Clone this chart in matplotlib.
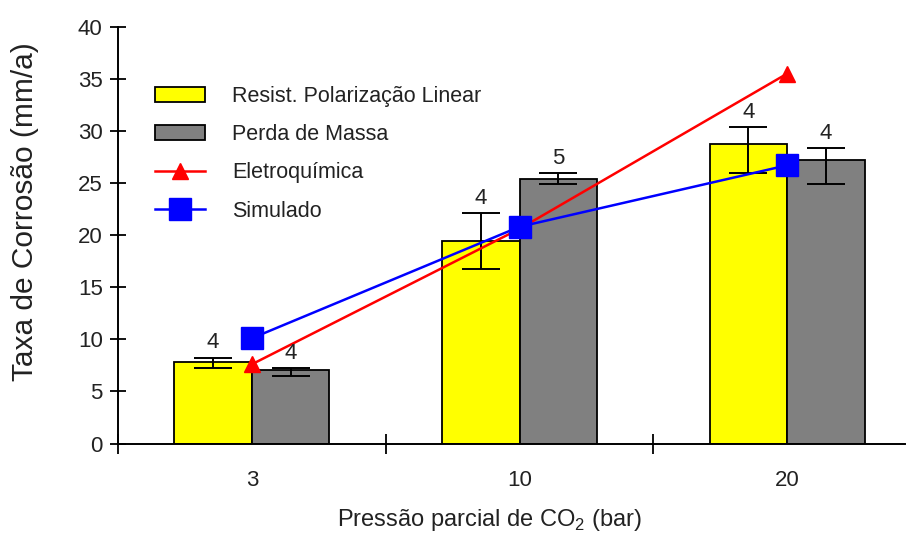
import matplotlib
matplotlib.use("Agg")
import matplotlib.pyplot as plt
import numpy as np

plt.rcParams["font.family"] = ["Liberation Sans", "DejaVu Sans"]
plt.rcParams["mathtext.fontset"] = "custom"
plt.rcParams["mathtext.rm"] = "Liberation Sans"

# CO2 partial pressure (bar)
categories = ["3", "10", "20"]

# Linear polarization resistance (mm/a) with asymmetric error bars
rpl = [7.8, 19.4, 28.75]
rpl_err_low = [0.55, 2.65, 2.75]
rpl_err_high = [0.45, 2.75, 1.65]
rpl_n = [4, 4, 4]

# Mass loss (mm/a)
mass = [7.05, 25.35, 27.2]
mass_err_low = [0.55, 0.4, 2.25]
mass_err_high = [0.2, 0.6, 1.15]
mass_n = [4, 5, 4]

# Electrochemical and simulated rates (mm/a)
electro = [7.6, 20.6, 35.5]
simulated = [10.1, 20.8, 26.7]

W, H = 909, 533
fig = plt.figure(figsize=(W / 100, H / 100), dpi=100)
ax = fig.add_axes([118 / W, 1 - 443.5 / H, 787 / W, (443.5 - 26.7) / H])

x = np.arange(len(categories))
bw = 0.29

err_kw = dict(ecolor="black", elinewidth=1.4, capsize=14, capthick=1.4)
b1 = ax.bar(x - bw / 2, rpl, bw, color="#FFFF00", edgecolor="black", linewidth=1.3,
            yerr=[rpl_err_low, rpl_err_high], error_kw=err_kw,
            label="Resist. Polarização Linear", zorder=2)
b2 = ax.bar(x + bw / 2, mass, bw, color="#808080", edgecolor="black", linewidth=1.3,
            yerr=[mass_err_low, mass_err_high], error_kw=err_kw,
            label="Perda de Massa", zorder=2)

# sample counts above each error bar
for xi, v, e, n in zip(x - bw / 2, rpl, rpl_err_high, rpl_n):
    ax.annotate(str(n), (xi, v + e), xytext=(0, 3), textcoords="offset points",
                ha="center", va="bottom", fontsize=16, color="#222222", zorder=5)
for xi, v, e, n in zip(x + bw / 2, mass, mass_err_high, mass_n):
    ax.annotate(str(n), (xi, v + e), xytext=(0, 3), textcoords="offset points",
                ha="center", va="bottom", fontsize=16, color="#222222", zorder=5)

l1, = ax.plot(x, electro, color="#FF0000", lw=1.8, marker="^", ms=12,
              label="Eletroquímica", zorder=4)
l2, = ax.plot(x, simulated, color="#0000FF", lw=1.8, marker="s", ms=16,
              label="Simulado", zorder=4)

ax.set_xlim(-0.5, 2.44)
ax.set_ylim(0, 40)
ax.set_yticks(np.arange(0, 41, 5))
ax.tick_params(axis="y", direction="inout", length=12, width=1.3, labelsize=16,
               pad=5, labelcolor="#222222")

ax.set_xticks(x)
ax.set_xticklabels(categories)
ax.set_xticks([-0.5, 0.5, 1.5], minor=True)
ax.tick_params(axis="x", which="major", length=0, labelsize=16, pad=19,
               labelcolor="#222222")
ax.tick_params(axis="x", which="minor", direction="inout", length=14, width=1.3)

for s in ("top", "right"):
    ax.spines[s].set_visible(False)
for s in ("left", "bottom"):
    ax.spines[s].set_linewidth(1.4)

ax.set_xlabel(r"Pressão parcial de CO$_\mathrm{2}$ (bar)", fontsize=17, color="#222222")
ax.xaxis.label.set_va("center")
ax.xaxis.set_label_coords((489 - 118) / 787, -(520 - 443.5) / (443.5 - 26.7))

ax.set_ylabel("Taxa de Corrosão (mm/a)", fontsize=21.5, color="#222222")
ax.yaxis.label.set_va("center")
ax.yaxis.set_label_coords((25 - 118) / 787, (443.5 - 212) / (443.5 - 26.7))

leg = fig.legend(handles=[b1, b2, l1, l2], loc="upper left",
                 bbox_to_anchor=(155 / W, 1 - 86 / H), frameon=False,
                 fontsize=15.5, handlelength=2.3, handletextpad=1.3,
                 labelspacing=0.8, borderpad=0, borderaxespad=0)
for t in leg.get_texts():
    t.set_color("#222222")

fig.savefig("out.png", dpi=100)
